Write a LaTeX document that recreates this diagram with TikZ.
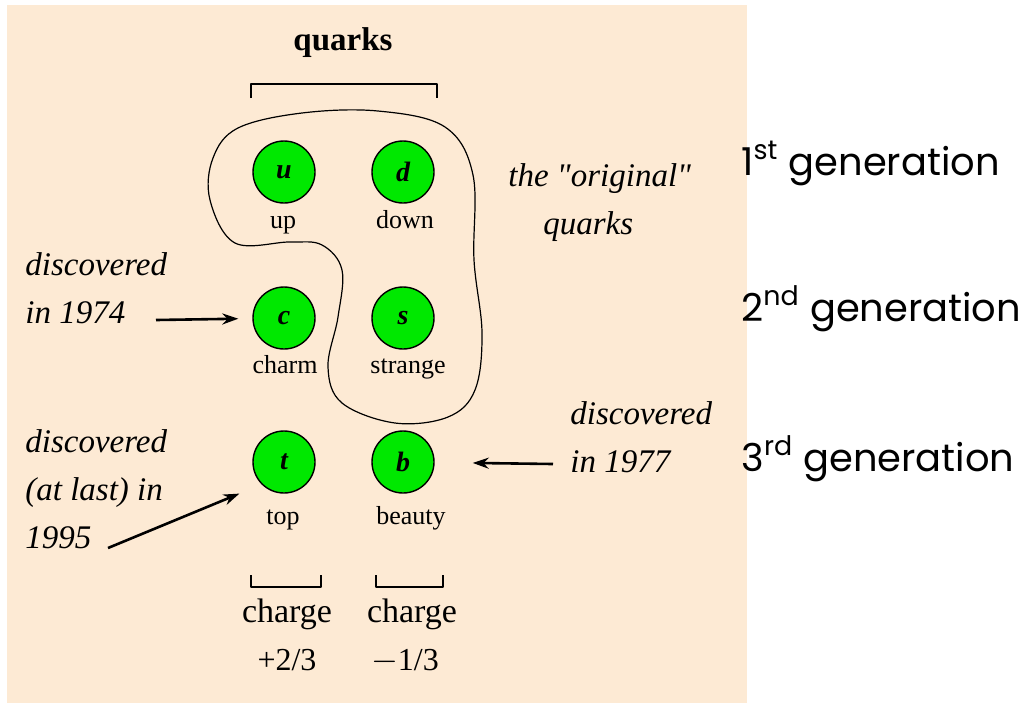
\documentclass[tikz,border=0pt]{standalone}
\usepackage{fontspec}
\setmainfont{Liberation Serif}
\newfontfamily\genfont{Poppins}
\usepackage{tikz}
\usetikzlibrary{arrows.meta,calc}
\definecolor{panelbg}{RGB}{253,234,212}
\definecolor{quarkgreen}{RGB}{0,232,0}

\begin{document}
\begin{tikzpicture}[x=0.5pt, y=-0.5pt, >=Stealth, line join=round,
  quark/.style={circle,fill=quarkgreen,draw=black,line width=0.7pt,minimum size=31pt,inner sep=0pt,
    font=\fontsize{14}{14}\selectfont\bfseries\itshape},
  qname/.style={anchor=base,font=\fontsize{13}{13}\selectfont},
  note/.style={anchor=base west,align=left,inner sep=0pt,font=\fontsize{16.5}{24}\selectfont\itshape},
  gen/.style={anchor=base west,inner sep=0pt,font=\fontsize{19.2}{19.2}\genfont},
  arr/.style={->,line width=1.3pt,>={Stealth[length=8pt,width=5.5pt]}},
  brack/.style={line width=1.3pt}]
  \useasboundingbox (0,0) rectangle (1023,703);
  \fill[panelbg] (7,5) rectangle (747,703);

  \node[anchor=base,font=\fontsize{16.5}{16.5}\selectfont\bfseries] (qhead) at (343,50) {quarks};
  \draw[brack] (251,98) -- (251,84) -- (437,84) -- (437,98);

  \draw[line width=0.6pt] plot[smooth cycle,tension=0.6] coordinates
    {(302,113) (378,111) (445,127) (473,175) (474,260) (482,333) (475,390)
     (448,417) (395,423) (342,403) (328,367) (338,317) (342,270) (322,245)
     (290,242) (235,243) (210,200) (213,158) (238,128)};

  \node[quark] (u) at (284,172) {u};
  \node[quark] (d) at (403,172) {d};
  \node[quark] (c) at (284,318) {c};
  \node[quark] (s) at (403,318) {s};
  \node[quark] (t) at (284,462) {t};
  \node[quark] (b) at (403,462) {b};

  \node[qname] (uname) at (283,228) {up};
  \node[qname] (dname) at (405,228) {down};
  \node[qname] (cname) at (285,373) {charm};
  \node[qname] (sname) at (408,373) {strange};
  \node[qname] (tname) at (283,524) {top};
  \node[qname] (bname) at (411,524) {beauty};

  \node[note] (orig) at (508,234) {the \textquotedbl original\textquotedbl\\\hspace*{17.5pt}quarks};

  \node[note] (d1974) at (25,323) {discovered\\in 1974};
  \node[note] (d1995) at (25,548) {discovered\\(at last) in\\1995};
  \node[note] (d1977) at (570,472) {discovered\\in 1977};

  \coordinate (tail1974) at (156,320);
  \coordinate (tail1995) at (108,548);
  \coordinate (tail1977) at (553,464);
  \draw[arr,shorten >=7pt] (tail1974) -- (c);
  \draw[arr,shorten >=12pt] (tail1995) -- (t.south west);
  \draw[arr,shorten >=19pt] (tail1977) -- (b);

  \draw[brack] (251,575) -- (251,587) -- (321,587) -- (321,575);
  \draw[brack] (376,575) -- (376,587) -- (443,587) -- (443,575);
  \node[anchor=base,font=\fontsize{17}{17}\selectfont] (chup) at (287,622) {charge};
  \node[anchor=base,font=\fontsize{17}{17}\selectfont] (chdown) at (412,622) {charge};
  \node[anchor=base,font=\fontsize{16}{16}\selectfont] (qup) at (287,670) {+2/3};
  \node[anchor=base,font=\fontsize{16}{16}\selectfont] (qdown) at (405,670) {$-$1/3};

  \node[gen] (gen1) at (741,175) {1\textsuperscript{st} generation};
  \node[gen] (gen2) at (741,321) {2\textsuperscript{nd} generation};
  \node[gen] (gen3) at (741,471) {3\textsuperscript{rd} generation};
\end{tikzpicture}
\end{document}
